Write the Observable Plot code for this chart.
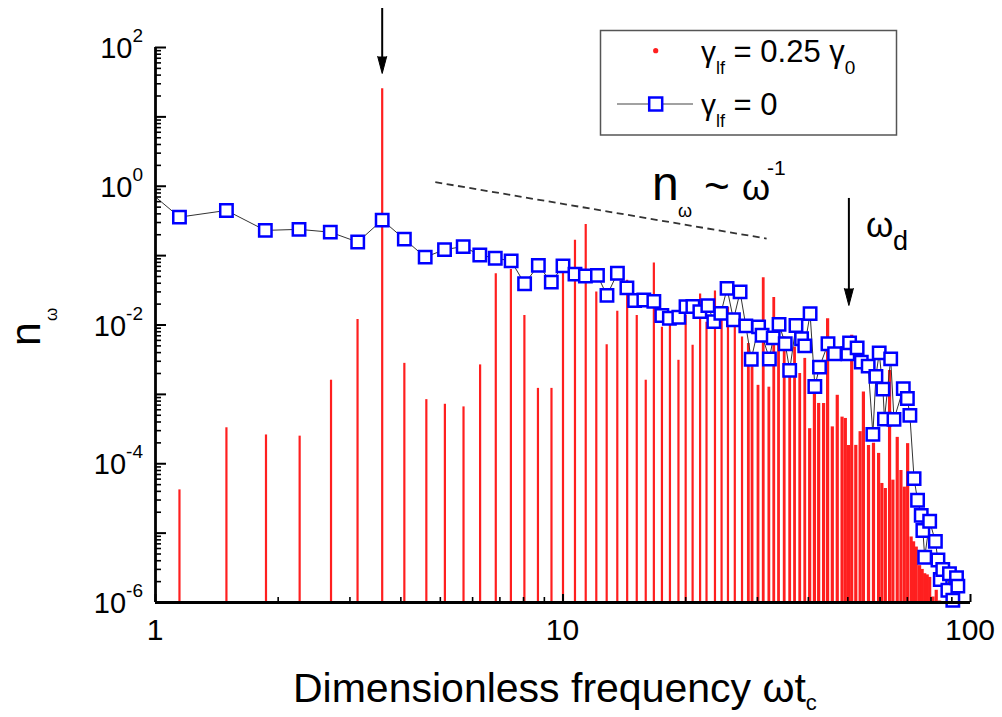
<!DOCTYPE html>
<html><head><meta charset="utf-8">
<script src="https://cdn.jsdelivr.net/npm/d3@7"></script>
<script src="https://cdn.jsdelivr.net/npm/@observablehq/plot@0.6"></script>
<style>
body{margin:0;background:#fff;}
#chart{position:relative;width:1002px;height:717px;overflow:hidden;}
</style>
</head><body><div id="chart"></div>
<script>
// red series: gamma_lf = 0.25 gamma_0 (frequency, n_omega)
const redF = [1.145, 1.493, 1.867, 2.258, 2.696, 3.132, 3.60, 4.08, 4.62, 5.13, 5.70, 6.26, 6.84, 7.45, 8.04, 8.68, 9.37,
  10.0, 10.7, 11.37, 12.07, 12.80, 13.59, 14.37, 15.17, 15.96, 16.71, 17.49, 18.3, 19.2, 20.0, 20.8, 21.7, 22.5, 23.6,
  24.5, 25.4, 26.4, 27.5, 28.5, 29.1, 30.1, 31.0, 32.0, 32.9, 33.8, 34.9, 36.0, 37.0, 38.1, 39.2, 40.3, 41.4, 42.4,
  43.6, 44.6, 45.8, 47.1, 48.4, 49.3, 50.2, 51.1, 52.3, 53.6, 54.6, 56.2, 57.8, 59.5, 60.6, 61.8, 63.3, 64.5, 66.1,
  67.5, 68.8, 70.1, 71.5, 72.5, 73.6, 75.0, 76.1, 77.2, 78.3, 79.4, 80.9, 82.4, 84.0];
const redN = [4.2e-5, 3.3e-4, 2.6e-4, 2.5e-4, 1.6e-3, 1.2e-2, 25.4, 2.8e-3, 8.4e-4, 7.2e-4, 6.6e-4, 2.66e-3, 0.055, 0.063,
  0.0137, 1.22e-3, 1.22e-3,
  0.058, 0.166, 0.28, 0.0298, 5.2e-3, 0.0158, 0.044, 0.0137, 1.6e-3, 0.078, 9.3e-3, 0.013, 3.1e-3, 0.0138, 5.1e-3, 0.028, 0.011, 0.031,
  0.0116, 0.018, 9.3e-3, 6.7e-3, 5.4e-3, 2.5e-3, 1.35e-3, 0.048, 1.27e-3, 0.025, 5.4e-3, 6.7e-3, 2.2e-3, 4.8e-3, 2.0e-3, 3.3e-3, 3.2e-4, 1.14e-3, 7.4e-4,
  7.4e-4, 0.0123, 3.4e-4, 9.7e-4, 4.7e-4, 4.5e-4, 1.84e-4, 7.1e-3, 1.84e-4, 2.9e-4, 1.08e-3, 1.84e-4, 1.97e-4, 1.41e-4, 5.2e-5, 4.4e-5, 2.2e-3, 5.8e-5, 2.4e-4,
  8.0e-5, 4.6e-5, 1.95e-4, 8.8e-6, 7.5e-6, 6.3e-6, 3.4e-6, 3.0e-6, 2.6e-6, 2.5e-6, 2.3e-6, 1.2e-6, 1.5e-6, 1.05e-6];

// blue series: gamma_lf = 0 (frequency, n_omega)
const blueF = [1.0, 1.145, 1.493, 1.86, 2.25, 2.685, 3.135, 3.60, 4.08, 4.59, 5.12, 5.69, 6.25, 6.82, 7.46, 8.05, 8.70, 9.36,
  10.0, 10.7, 11.35, 12.15, 12.82, 13.6, 14.35, 14.99, 15.79, 16.71, 17.48, 18.24, 19.24, 20.04, 20.83, 21.67, 22.67, 23.45,
  24.4, 25.27, 26.2, 27.2, 28.1, 28.97, 30.2, 30.8, 32.1, 32.8, 33.9, 35.1, 36.0, 37.3, 38.5, 39.2, 40.4, 41.5, 42.6, 44.7,
  46.4, 50.0, 50.5, 52.7, 53.95, 56.1, 57.6, 58.6, 59.7, 60.96, 61.5, 63.7, 64.9, 68.4, 70.0, 71.0, 72.7, 74.15, 75.7, 76.4,
  77.2, 79.4, 82.0, 83.2, 84.3, 85.5, 88.0, 88.8, 90.5, 92.4, 93.1];
const blueN = [0.70, 0.359, 0.448, 0.231, 0.239, 0.218, 0.157, 0.325, 0.173, 0.095, 0.122, 0.135, 0.102, 0.0918, 0.0839, 0.0394, 0.0723, 0.0415,
  0.0711, 0.0541, 0.0509, 0.0519, 0.0267, 0.0557, 0.0343, 0.0226, 0.0229, 0.0219, 0.0137, 0.0125, 0.0129, 0.0184, 0.0185, 0.0156, 0.0190, 0.0112,
  0.0147, 0.0337, 0.0119, 0.030, 0.0097, 0.00321, 0.0094, 0.0071, 0.00324, 0.00652, 0.0102, 0.00538, 0.00222, 0.00986, 0.00635, 0.0050, 0.0146, 0.0013, 0.00247, 0.00538,
  0.00385, 0.00385, 0.00552, 0.00468, 0.00292, 0.00255, 2.65e-4, 0.00182, 0.00396, 0.00119, 4.4e-4, 0.00325, 4.36e-4, 0.00121, 8.7e-4, 4.98e-4, 6.1e-5, 2.97e-5, 1.8e-5, 1.09e-5,
  4.5e-6, 1.48e-5, 7.6e-6, 4.1e-6, 2.14e-6, 2.99e-6, 1.5e-6, 2.6e-6, 1.08e-6, 2.27e-6, 1.72e-6];

// axes ticks / labels
const xMajor = [1, 10, 100];
const xMinor = [2, 3, 4, 5, 6, 7, 8, 9, 20, 30, 40, 50, 60, 70, 80, 90];
const yDecades = [1e-6, 1e-5, 1e-4, 1e-3, 1e-2, 1e-1, 1, 10, 100];
const yMinorMult = [2, 3, 4, 5, 6, 7, 8, 9];
const yLabelExps = [2, 0, -2, -4, -6];

// annotations
const slopeLine = [{x1: 4.86, y1: 1.146, x2: 31.6, y2: 0.176}];
const arrows = [
  {x: 3.60, top: 365, end: 65, tip: 42.2},
  {x: 50.3, top: 0.667, end: 0.0295, tip: 0.0191}
];

const W = 1002, H = 717, mL = 155, mR = 32, mT = 47, mB = 115;
const plotW = W - mL - mR, plotH = H - mT - mB;
const fnt = "'Liberation Sans', Arial, Helvetica, sans-serif";
const RED = "#ff1f1f", BLUE = "#0000ff";

const red = redF.map((f, i) => ({f, n: redN[i]}));
const blue = blueF.map((f, i) => ({f, n: blueN[i]}));
const yMinor = yDecades.slice(0, -1).flatMap(d => yMinorMult.map(m => m * d));

const plot = Plot.plot({
  width: W, height: H,
  marginLeft: mL, marginRight: mR, marginTop: mT, marginBottom: mB,
  x: {type: "log", domain: [1, 100], axis: null},
  y: {type: "log", domain: [1e-6, 100], axis: null},
  style: {background: "white", fontFamily: fnt, overflow: "visible"},
  marks: [
    Plot.ruleX(red, {x: "f", y1: 1e-6, y2: "n", stroke: RED, strokeWidth: d => (d.f > 40 ? 3.2 : d.f > 28 ? 2.8 : 2.2)}),
    Plot.link(slopeLine, {x1: "x1", y1: "y1", x2: "x2", y2: "y2", stroke: "#333", strokeWidth: 1.8, strokeDasharray: "7,4.5"}),
    Plot.line(blue, {x: "f", y: "n", stroke: "#333", strokeWidth: 1}),
    Plot.dot(blue.filter(d => d.f > 1.05), {x: "f", y: "n", symbol: "square", r: 7, stroke: BLUE, strokeWidth: 2.5, fill: "white"}),
    // arrows
    Plot.ruleX(arrows, {x: "x", y1: "top", y2: "end", stroke: "#000", strokeWidth: 2}),
    Plot.vector(arrows, {x: "x", y: "tip", length: 17, rotate: 180, anchor: "end", shape: "spike", r: 4.5, fill: "#000", stroke: "#000", strokeWidth: 1}),
    // axes
    Plot.tickY(yDecades, {y: d => d, insetRight: plotW - 11, stroke: "#000", strokeWidth: 2}),
    Plot.tickY(yMinor, {y: d => d, insetRight: plotW - 6, stroke: "#000", strokeWidth: 1.6}),
    Plot.tickX(xMajor, {x: d => d, insetTop: plotH - 8, stroke: "#000", strokeWidth: 2}),
    Plot.tickX(xMinor, {x: d => d, insetTop: plotH - 5, stroke: "#000", strokeWidth: 1.6}),
    Plot.ruleX([1], {stroke: "#000", strokeWidth: 2.8}),
    Plot.ruleY([1e-6], {stroke: "#000", strokeWidth: 2.8})
  ]
});

const sx = plot.scale("x").apply, sy = plot.scale("y").apply;
const svg = d3.select(plot);
const g = svg.append("g").attr("font-family", fnt).attr("fill", "#000").attr("text-anchor", "start");

function txt(x, y, parts, opts = {}) {
  const t = g.append("text").attr("x", x).attr("y", y).attr("text-anchor", opts.anchor || "start");
  if (opts.transform) t.attr("transform", opts.transform);
  let cur = 0;
  for (const p of parts) {
    const s = t.append("tspan").text(p.t).attr("font-size", p.size);
    const shift = p.shift || 0;
    if (shift - cur) s.attr("dy", shift - cur);
    cur = shift;
    if (p.dx) s.attr("dx", p.dx);
  }
  return t;
}

// y tick labels
for (const e of yLabelExps) {
  txt(143, sy(Math.pow(10, e)) + 11, [{t: "10", size: 29}, {t: String(e), size: 19, shift: -16}], {anchor: "end"});
}
// x tick labels
for (const v of xMajor) txt(sx(v), 640, [{t: String(v), size: 30}], {anchor: "middle"});

// axis titles
txt(293, 702, [{t: "Dimensionless frequency ωt", size: 41}, {t: "c", size: 22, shift: 8}]);
txt(0, 0, [{t: "n", size: 43}, {t: "ω", size: 17, shift: 17, dx: 1}], {transform: "translate(40,346) rotate(-90)"});

// annotation n_ω ~ ω^-1
txt(652, 200, [{t: "n", size: 48}]);
txt(678, 217, [{t: "ω", size: 18}]);
txt(704, 201, [{t: "~", size: 44}]);
txt(742, 200, [{t: "ω", size: 36}]);
txt(767, 175, [{t: "-1", size: 21}]);
// ω_d
txt(866, 237, [{t: "ω", size: 35}]);
txt(893, 250, [{t: "d", size: 27}]);

// legend
const lg = g.append("g");
lg.append("rect").attr("x", 600.5).attr("y", 30.5).attr("width", 296).attr("height", 104.5)
  .attr("fill", "white").attr("stroke", "#555").attr("stroke-width", 1.5);
lg.append("circle").attr("cx", 655.7).attr("cy", 50.7).attr("r", 2.6).attr("fill", RED);
lg.append("line").attr("x1", 617).attr("x2", 693).attr("y1", 104).attr("y2", 104).attr("stroke", "#444").attr("stroke-width", 1.2);
lg.append("rect").attr("x", 649.2).attr("y", 97.5).attr("width", 13).attr("height", 13)
  .attr("fill", "white").attr("stroke", BLUE).attr("stroke-width", 2.5);
txt(701, 62, [{t: "γ", size: 30}, {t: "lf", size: 18, shift: 12}, {t: " = 0.25 γ", size: 31, shift: 0}, {t: "0", size: 19, shift: 12}]);
txt(701, 115, [{t: "γ", size: 30}, {t: "lf", size: 18, shift: 12}, {t: " = 0", size: 31, shift: 0}]);

document.getElementById("chart").appendChild(plot);
</script>
</body></html>
